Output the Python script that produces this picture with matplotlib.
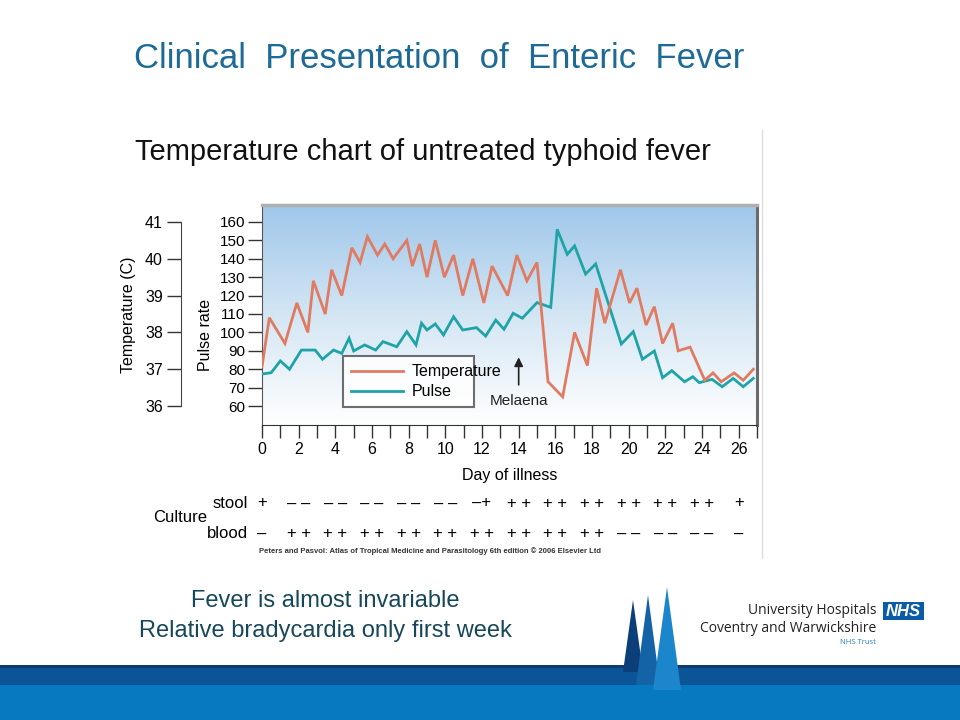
import numpy as np
import matplotlib
matplotlib.use('Agg')
import matplotlib.pyplot as plt
from matplotlib.colors import LinearSegmentedColormap
from matplotlib.patches import Polygon, Rectangle
from matplotlib.lines import Line2D
import matplotlib.transforms as mtransforms

temp_days = [0.0, 0.4, 1.25, 1.9, 2.5, 2.8, 3.45, 3.8, 4.35, 4.9, 5.35, 5.75, 6.3, 6.7,
             7.15, 7.9, 8.2, 8.6, 9.0, 9.45, 9.95, 10.45, 10.95, 11.5, 12.1, 12.55, 13.4,
             13.9, 14.45, 15.0, 15.6, 16.4, 17.05, 17.75, 18.25, 18.7, 19.55, 20.05, 20.45,
             20.95, 21.4, 21.85, 22.4, 22.7, 23.35, 24.15, 24.6, 25.05, 25.75, 26.25, 26.8]
temp_c = [37.07, 38.4, 37.7, 38.8, 38.0, 39.4, 38.5, 39.7, 39.0, 40.3, 39.9, 40.6, 40.1, 40.4,
          40.0, 40.5, 39.8, 40.4, 39.5, 40.5, 39.5, 40.1, 39.0, 40.0, 38.8, 39.8, 39.0,
          40.1, 39.4, 39.9, 36.66, 36.25, 38.0, 37.1, 39.2, 38.25, 39.7, 38.8, 39.2,
          38.2, 38.7, 37.7, 38.25, 37.5, 37.6, 36.7, 36.9, 36.66, 36.9, 36.7, 37.0]

pulse_days = [0.0, 0.5, 1.0, 1.5, 2.15, 2.9, 3.3, 3.9, 4.35, 4.75, 5.0, 5.6, 6.2, 6.6, 7.35,
              7.9, 8.4, 8.7, 9.0, 9.45, 9.9, 10.45, 10.95, 11.7, 12.2, 12.75, 13.2, 13.7,
              14.2, 15.0, 15.75, 16.1, 16.65, 17.05, 17.65, 18.2, 19.6, 20.25, 20.75, 21.4,
              21.85, 22.35, 23.05, 23.5, 23.85, 24.55, 25.1, 25.7, 26.25, 26.8]
pulse = [77.4, 78.1, 84.5, 80, 90.4, 90.4, 85.4, 90.4, 88.6, 96.8, 89.9, 93.2, 90.4, 95, 92.2,
         100.4, 93.2, 105, 101.3, 104.6, 98.6, 108.5, 101.3, 102.6, 98, 106.7, 101.7, 110.4,
         107.7, 116.2, 113.6, 156, 142.4, 147, 131.7, 137.2, 93.7, 100.4, 85.4, 89.9,
         75.4, 79.2, 73.2, 75.9, 72.7, 74.5, 70.5, 75, 70.5, 75]

pulse_ticks = list(range(60, 161, 10))
temp_ticks = [36, 37, 38, 39, 40, 41]
day_labels = list(range(0, 27, 2))

culture_days = list(range(0, 27, 2))
stool = ['+', '– –', '– –', '– –', '– –', '– –', '–+', '+ +', '+ +', '+ +', '+ +', '+ +', '+ +', '+']
blood = ['–', '+ +', '+ +', '+ +', '+ +', '+ +', '+ +', '+ +', '+ +', '+ +', '– –', '– –', '– –', '–']

melaena_day = 14

RED = '#e07b62'
TEAL = '#1ea4a6'
NARROW = ['Liberation Sans Narrow', 'Liberation Sans', 'DejaVu Sans']
FS = 11
plt.rcParams['font.family'] = ['Liberation Sans', 'DejaVu Sans']

W, H = 960, 720
fig = plt.figure(figsize=(9.6, 7.2), dpi=100)


def fx(x):
    return x / W


def fy(y):
    return 1 - y / H


# slide title and chart caption
fig.text(fx(439), fy(58), 'Clinical  Presentation  of  Enteric  Fever', color='#1d6a96',
         fontsize=25, ha='center', va='center')
fig.text(fx(135), fy(152), 'Temperature chart of untreated typhoid fever', color='#111111',
         fontsize=21, ha='left', va='center')
fig.add_artist(Line2D([fx(762), fx(762)], [fy(130), fy(558)], color='#dddddd', lw=1))

# main plot area (pulse scale)
x0, x1, yt, yb = 262, 757, 205, 425
ax = fig.add_axes([fx(x0), fy(yb), fx(x1 - x0), (yb - yt) / H])
p_lo, p_hi = 49.7, 169.2

cmap = LinearSegmentedColormap.from_list('bg', ['#ffffff', '#d4e6f4', '#9fc7ea'])
ax.imshow(np.linspace(0, 1, 256).reshape(-1, 1), extent=[0, 1, 0, 1], transform=ax.transAxes,
          origin='lower', aspect='auto', cmap=cmap, zorder=0)
ax.set_xlim(0, 26.98)
ax.set_ylim(p_lo, p_hi)

ax.plot(pulse_days, pulse, color=TEAL, lw=2.0, zorder=3, solid_joinstyle='miter')

ax.set_yticks(pulse_ticks)
ax.set_yticklabels([str(v) for v in pulse_ticks], family=NARROW, fontsize=FS)
ax.tick_params(axis='y', direction='out', length=10, width=1, color='#333333', pad=2)
ax.set_xticks(day_labels)
ax.set_xticks(range(0, 28), minor=True)
ax.set_xticklabels([str(d) for d in day_labels], family=NARROW, fontsize=FS + 0.5)
ax.tick_params(axis='x', which='both', direction='out', length=9, width=1, color='#333333', pad=3)
ax.set_xlabel('Day of illness', family=NARROW, fontsize=FS + 0.5, labelpad=8)

ax.spines['left'].set_color('#555555')
ax.spines['bottom'].set_color('#333333')
ax.spines['right'].set_color('#6a6a6a')
ax.spines['right'].set_linewidth(2.2)
ax.spines['top'].set_color('#b0b0b0')
ax.spines['top'].set_linewidth(2.5)

# temperature drawn on its own scale over the same area
ax_t = ax.twinx()
ax_t.set_ylim(36 + (p_lo - 60) / 20, 36 + (p_hi - 60) / 20)
ax_t.plot(temp_days, temp_c, color=RED, lw=2.0, zorder=3, solid_joinstyle='miter')
ax_t.set_yticks([])
for s in ax_t.spines.values():
    s.set_visible(False)

handles = [Line2D([], [], color=RED, lw=2.0), Line2D([], [], color=TEAL, lw=2.0)]
leg = ax_t.legend(handles, ['Temperature', 'Pulse'], loc='lower left',
                  bbox_to_anchor=(0.147, 0.045, 0.297, 0.237), mode='expand',
                  prop={'family': NARROW, 'size': FS + 0.5}, frameon=True, fancybox=False,
                  handlelength=3.3, borderpad=0.5, labelspacing=0.3, handletextpad=0.5)
leg.get_frame().set_edgecolor('#555555')
leg.get_frame().set_linewidth(1.5)
leg.get_frame().set_facecolor('#ffffff')
leg.get_frame().set_alpha(0.85)

ax.annotate('', xy=(melaena_day, 88), xytext=(melaena_day, 70),
            arrowprops=dict(arrowstyle='-|>', color='#222222', lw=1.2, mutation_scale=13))
ax.text(melaena_day, 62.5, 'Melaena', family=NARROW, fontsize=FS, ha='center', va='center',
        color='#222222')

ax.set_ylabel('Pulse rate', family=NARROW, fontsize=FS + 0.5)
ax.yaxis.set_label_coords((213 - x0) / (x1 - x0), 0.41)

# separate temperature scale to the left
ax_s = fig.add_axes([fx(181), fy(yb), 0.001, (yb - yt) / H])
ax_s.set_ylim(36 + (p_lo - 60) / 20, 36 + (p_hi - 60) / 20)
ax_s.patch.set_visible(False)
for k in ['right', 'top', 'bottom']:
    ax_s.spines[k].set_visible(False)
ax_s.spines['left'].set_bounds(36, 41)
ax_s.spines['left'].set_color('#444444')
ax_s.set_xticks([])
ax_s.set_yticks(temp_ticks)
ax_s.set_yticklabels([str(v) for v in temp_ticks], family=NARROW, fontsize=FS + 0.5)
ax_s.tick_params(axis='y', direction='out', length=10, width=1, color='#333333', pad=3)
fig.text(fx(129), fy(315), 'Temperature (C)', rotation=90, family=NARROW, fontsize=FS + 0.5,
         ha='center', va='center')

# culture results under each labelled day
tr = mtransforms.blended_transform_factory(ax.transData, fig.transFigure)
for d, s, b in zip(culture_days, stool, blood):
    ax.text(d, fy(503), s, transform=tr, family=NARROW, fontsize=FS + 1, ha='center', va='center')
    ax.text(d, fy(534), b, transform=tr, family=NARROW, fontsize=FS + 1, ha='center', va='center')
fig.text(fx(248), fy(503), 'stool', family=NARROW, fontsize=FS + 1, ha='right', va='center')
fig.text(fx(248), fy(534), 'blood', family=NARROW, fontsize=FS + 1, ha='right', va='center')
fig.text(fx(180), fy(518), 'Culture', family=NARROW, fontsize=FS + 1, ha='center', va='center')
fig.text(fx(430), fy(551), 'Peters and Pasvol: Atlas of Tropical Medicine and Parasitology '
         '6th edition © 2006 Elsevier Ltd', family=NARROW, fontsize=5.5, ha='center',
         va='center', weight='bold', color='#333333')

# slide footnotes
fig.text(fx(325), fy(601), 'Fever is almost invariable', color='#17475a', fontsize=17,
         ha='center', va='center')
fig.text(fx(325), fy(631), 'Relative bradycardia only first week', color='#17475a',
         fontsize=17, ha='center', va='center')

# footer band
fig.add_artist(Rectangle((0, 0), 1, fy(685), transform=fig.transFigure, color='#0779c1', lw=0))
fig.add_artist(Rectangle((0, fy(685)), 1, (685 - 668) / H, transform=fig.transFigure,
                         color='#0b5596', lw=0))
fig.add_artist(Rectangle((0, fy(668)), 1, 3 / H, transform=fig.transFigure,
                         color='#0a3c72', lw=0))

# spires logo
for pts, c in [([(623, 672), (633, 600), (643, 672)], '#0c3f7a'),
               ([(636, 685), (648, 595), (660, 685)], '#1463a6'),
               ([(653, 690), (667, 587), (681, 690)], '#1b86cc')]:
    fig.add_artist(Polygon([(fx(a), fy(b)) for a, b in pts], closed=True,
                           transform=fig.transFigure, color=c, lw=0))

fig.text(fx(876), fy(611), 'University Hospitals', family=['Open Sans', 'DejaVu Sans'],
         fontsize=10, ha='right', va='center', color='#222222')
fig.text(fx(876), fy(628), 'Coventry and Warwickshire', family=['Open Sans', 'DejaVu Sans'],
         fontsize=10, ha='right', va='center', color='#222222')
fig.text(fx(876), fy(642), 'NHS Trust', family=['Open Sans', 'DejaVu Sans'],
         fontsize=5.5, ha='right', va='center', color='#2a7fc0')
fig.add_artist(Rectangle((fx(883), fy(620)), 41 / W, 18 / H, transform=fig.transFigure,
                         color='#0a5ba8', lw=0))
fig.text(fx(903.5), fy(611), 'NHS', fontsize=12, weight='bold', style='italic', color='white',
         ha='center', va='center', family=['Liberation Sans', 'DejaVu Sans'])

fig.savefig('out.png', dpi=100)
